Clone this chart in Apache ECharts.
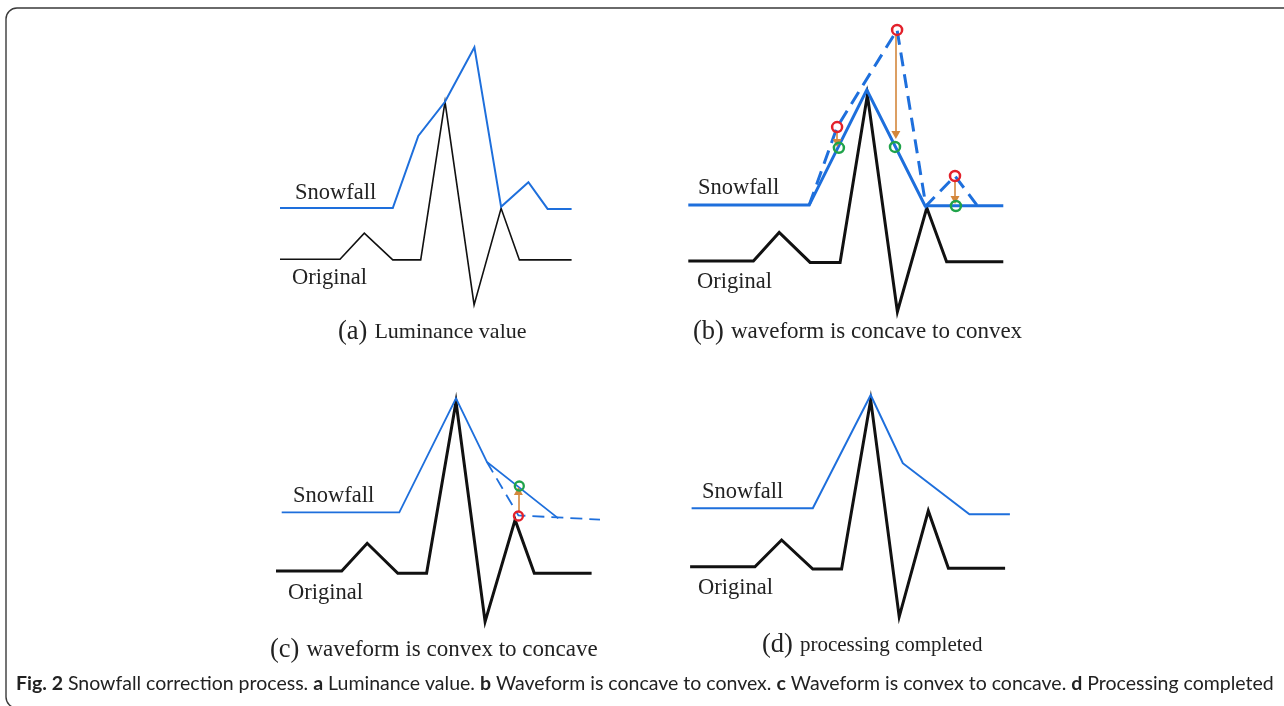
<!DOCTYPE html>
<html>
<head>
<meta charset="utf-8">
<script src="https://cdn.jsdelivr.net/npm/echarts@6/dist/echarts.min.js"></script>
<style>
html,body{margin:0;padding:0;background:#fff;}
#chart{width:1284px;height:706px;}
</style>
</head>
<body>
<div id="chart"></div>
<script>
// ---------- DATA ----------
// Panel (a) Luminance value
const aSnowfall = [[0,34],[37.6,34],[46.1,58],[55,69.4],[64.8,87.6],[73.7,34.4],[82.8,42.6],[89.2,33.7],[97.2,33.7]];
const aOriginal = [[0,16.9],[20,16.9],[28.1,25.6],[37.6,16.7],[46.9,16.7],[55,69.4],[64.7,1.7],[73.7,33.9],[79.8,16.7],[97.2,16.7]];
// Panel (b) waveform is concave to convex
const bSnowfall = [[1.1,38.3],[41.4,38.3],[60.6,76.7],[80,38.1],[106.1,38.1]];
const bSnowfallBefore = [[41.4,38.3],[50.7,64.3],[70.7,96.7],[80.3,38],[90,48],[97.3,38.3]];
const bOriginal = [[1.1,19.7],[22.8,19.7],[31.4,29.2],[41.7,19.2],[51.7,19.2],[60.8,75],[70.8,2.8],[80.6,37.4],[87.2,19.4],[106.1,19.4]];
const bRed = [[50.7,64.3],[70.7,96.7],[90,48]];
const bGreen = [[51.3,57.4],[70,57.7],[90.3,38]];
const bArrows = [[50.7,63,59],[70.3,95,61.7],[90,46.7,40]]; // x, from y, to y
// Panel (c) waveform is convex to concave
const cSnowfall = [[3.9,39.2],[43.1,39.2],[62,77.2],[72.3,56],[96.1,37.2]];
const cSnowfallBefore = [[72.3,56],[82.8,38.2],[110,36.8]];
const cOriginal = [[2,19.7],[23.9,19.7],[32.4,28.9],[42.6,18.9],[52.2,18.9],[62,76.1],[71.7,2.8],[81.7,36.7],[88.1,18.9],[107.2,18.9]];
const cRed = [[82.8,38]];
const cGreen = [[83.1,48]];
const cArrows = [[82.8,39.7,46.3]];
// Panel (d) processing completed
const dSnowfall = [[2.2,40.6],[42.6,40.6],[61.9,78.3],[72.6,55.6],[94.8,38.6],[108.3,38.6]];
const dOriginal = [[1.7,21.1],[23.3,21.1],[32.2,30],[42.6,20.3],[52.2,20.3],[61.9,76.7],[71.4,4.4],[81.1,39.7],[87.8,20.6],[106.7,20.6]];
// Texts
const seriesNames = ['Snowfall','Original'];
const panelLetters = ['(a)','(b)','(c)','(d)'];
const panelTitles = ['Luminance value','waveform is concave to convex','waveform is convex to concave','processing completed'];
const figLabel = 'Fig. 2';
const figTitle = 'Snowfall correction process.';
const figParts = [['a','Luminance value.'],['b','Waveform is concave to convex.'],['c','Waveform is convex to concave.'],['d','Processing completed']];

// ---------- STYLE ----------
const BLUE = '#1e6fdc', BLACK = '#111111', RED = '#e3212b', GREEN = '#1fa34a', ARROW = '#d4873c';
const SERIF = '"Liberation Serif","Times New Roman",serif';

const grids = [
  {left:280, top:40, width:300, height:270},
  {left:685, top:20, width:330, height:300},
  {left:270, top:390, width:330, height:240},
  {left:685, top:390, width:330, height:240}
];
const xMax = [100,110,110,110];
const yMax = [90,100,80,80];

function lineS(idx, data, color, width, dashed, z){
  return {type:'line', xAxisIndex:idx, yAxisIndex:idx, data:data, symbol:'none', silent:true,
    lineStyle:{color:color, width:width, type: dashed ? dashed : 'solid', cap:'butt', join:'miter'},
    z: z||2, animation:false};
}
function ringS(idx, data, color, size, bw, arrows){
  const s = {type:'scatter', xAxisIndex:idx, yAxisIndex:idx, data:data, symbol:'circle', symbolSize:size, silent:true,
    itemStyle:{color:'rgba(255,255,255,0)', borderColor:color, borderWidth:bw, opacity:1}, z:5, animation:false};
  if(arrows){
    s.markLine = {silent:true, animation:false, symbol:['none','triangle'], symbolSize:[9,8], precision:4,
      label:{show:false}, lineStyle:{color:ARROW, width:1.6, type:'solid'},
      emphasis:{disabled:true},
      data: arrows.map(a=>[{coord:[a[0],a[1]]},{coord:[a[0],a[2]]}])};
  }
  return s;
}

const series = [
  lineS(0, aOriginal, BLACK, 1.6),
  lineS(0, aSnowfall, BLUE, 2),
  lineS(1, bOriginal, BLACK, 3),
  lineS(1, bSnowfall, BLUE, 3, null, 3),
  lineS(1, bSnowfallBefore, BLUE, 3, [14,8], 3),
  ringS(1, bRed, RED, 10, 2.5, bArrows),
  ringS(1, bGreen, GREEN, 10, 2.5),
  lineS(2, cOriginal, BLACK, 3),
  lineS(2, cSnowfall, BLUE, 1.8, null, 3),
  lineS(2, cSnowfallBefore, BLUE, 1.8, [12,7], 3),
  ringS(2, cRed, RED, 9, 2.3, cArrows),
  ringS(2, cGreen, GREEN, 9, 2.3),
  lineS(3, dOriginal, BLACK, 3),
  lineS(3, dSnowfall, BLUE, 2)
];

// label positions (pixels)
const nameLabels = [
  [295,193,292,278],
  [698,188,697,282],
  [293,496,288,593],
  [702,492,698,588]
];
const captionPos = [[338,332],[693,332],[270,650],[762,645]];
const captionSize = [22,23,23,21];

const graphic = [];
graphic.push({type:'rect', silent:true, shape:{x:6, y:8, width:1300, height:700, r:11},
  style:{fill:'none', stroke:'#3a3a3a', lineWidth:1.4}});
for(let i=0;i<4;i++){
  const p = nameLabels[i];
  graphic.push({type:'text', x:p[0], y:p[1], silent:true,
    style:{text:seriesNames[0], font:'22.5px '+SERIF, fill:'#222', align:'left', verticalAlign:'middle', textAlign:'left', textVerticalAlign:'middle'}});
  graphic.push({type:'text', x:p[2], y:p[3], silent:true,
    style:{text:seriesNames[1], font:'22.5px '+SERIF, fill:'#222', align:'left', verticalAlign:'middle', textAlign:'left', textVerticalAlign:'middle'}});
  graphic.push({type:'text', x:captionPos[i][0], y:captionPos[i][1], silent:true,
    style:{text:'{p|'+panelLetters[i]+'}{t|'+panelTitles[i]+'}', fill:'#222', align:'left', verticalAlign:'middle', textAlign:'left', textVerticalAlign:'middle',
      rich:{p:{fontFamily:SERIF, fontSize:26.5, fill:'#222', padding:[0,7,0,0]}, t:{fontFamily:SERIF, fontSize:captionSize[i], fill:'#222'}}}});
}

// bottom caption: fit width
const cv = document.createElement('canvas').getContext('2d');
function w(font, t){cv.font = font; return cv.measureText(t).width;}
let fam = '"Lato",sans-serif';
if (Math.abs(w('20px "Liberation Sans Narrow", monospace','abcdefghijklmnop Fig') - w('20px monospace','abcdefghijklmnop Fig'))>1) fam = '"Liberation Sans Narrow",sans-serif';
let capText = '{b|'+figLabel+'} '+figTitle;
let plainSegs = [[true,figLabel],[false,' '+figTitle]];
figParts.forEach(fp=>{capText += ' {b|'+fp[0]+'} '+fp[1]; plainSegs.push([false,' ']); plainSegs.push([true,fp[0]]); plainSegs.push([false,' '+fp[1]]);});
let tot = 0; plainSegs.forEach(s=>{tot += w((s[0]?'bold ':'')+'20px '+fam, s[1]);});
let fs = Math.min(21, 20*1258/tot);
graphic.push({type:'text', x:16, y:684, silent:true,
  style:{text:capText, fill:'#222', align:'left', verticalAlign:'middle', textAlign:'left', textVerticalAlign:'middle',
    rich:{b:{fontFamily:fam, fontSize:fs, fontWeight:'bold', fill:'#222'}},
    fontFamily:fam, fontSize:fs}});

const option = {
  backgroundColor:'#ffffff',
  animation:false,
  grid: grids.map(g=>Object.assign({containLabel:false}, g)),
  xAxis: grids.map((g,i)=>({type:'value', gridIndex:i, min:0, max:xMax[i], show:false})),
  yAxis: grids.map((g,i)=>({type:'value', gridIndex:i, min:0, max:yMax[i], show:false})),
  series: series,
  graphic: graphic
};
const chart = echarts.init(document.getElementById('chart'), null, {renderer:'canvas'});
chart.setOption(option);
</script>
</body>
</html>
